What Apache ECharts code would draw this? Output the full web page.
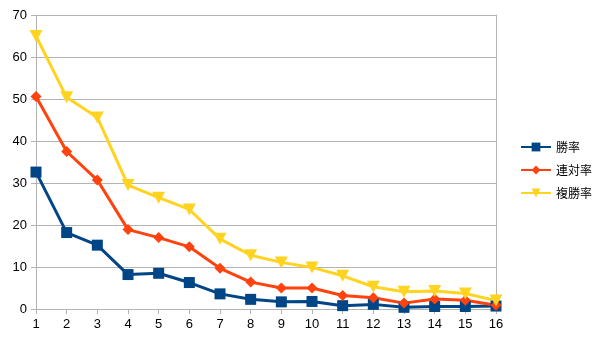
<!DOCTYPE html>
<html>
<head>
<meta charset="utf-8">
<script src="https://cdn.jsdelivr.net/npm/echarts@6/dist/echarts.min.js"></script>
<style>
  html, body { margin: 0; padding: 0; background: #fff; }
  #chart { width: 605px; height: 340px; }
</style>
</head>
<body>
<div id="chart"></div>
<script>
// Finishing position 1..16
const categories = ['1','2','3','4','5','6','7','8','9','10','11','12','13','14','15','16'];
const winRate   = [32.6, 18.2, 15.2, 8.2, 8.5, 6.3, 3.6, 2.3, 1.7, 1.8, 0.8, 1.1, 0.4, 0.6, 0.6, 0.7];
const quinella  = [50.6, 37.5, 30.7, 18.9, 17.0, 14.8, 9.7, 6.4, 5.0, 5.0, 3.2, 2.7, 1.4, 2.4, 2.1, 0.9];
const showRate  = [65.0, 50.4, 45.6, 29.5, 26.5, 23.7, 16.7, 12.8, 11.1, 9.9, 7.9, 5.3, 4.1, 4.3, 3.7, 2.0];
const seriesNames = ['勝率', '連対率', '複勝率'];

const font = 'Liberation Sans, DejaVu Sans, sans-serif';
const gray = '#b3b3b3';

const chart = echarts.init(document.getElementById('chart'));
chart.setOption({
  animation: false,
  grid: { left: 36, right: 109, top: 15, bottom: 31 },
  legend: {
    orient: 'vertical',
    left: 515,
    top: 136,
    itemGap: 11,
    itemWidth: 30,
    itemHeight: 11,
    textStyle: { fontFamily: '"Noto Sans CJK JP", sans-serif', fontSize: 12, color: '#000' },
    data: seriesNames
  },
  xAxis: {
    type: 'category',
    data: categories,
    boundaryGap: false,
    axisLine: { lineStyle: { color: gray } },
    axisTick: { show: true, alignWithLabel: true, length: 5, lineStyle: { color: gray } },
    axisLabel: { color: '#000', fontFamily: font, fontSize: 13, margin: 9 },
    splitLine: { show: false }
  },
  yAxis: [{
    type: 'value',
    min: 0, max: 70, interval: 10,
    axisLine: { show: true, lineStyle: { color: gray } },
    axisTick: { show: true, length: 5, lineStyle: { color: gray } },
    axisLabel: { color: '#000', fontFamily: font, fontSize: 13, margin: 9 },
    splitLine: { lineStyle: { color: gray } }
  }, {
    type: 'value',
    position: 'right',
    min: 0, max: 70, interval: 10,
    axisLine: { show: true, lineStyle: { color: gray } },
    axisTick: { show: false },
    axisLabel: { show: false },
    splitLine: { show: false }
  }],
  series: [
    {
      name: seriesNames[0], type: 'line', data: winRate,
      symbol: 'rect', symbolSize: 11,
      itemStyle: { color: '#004586' },
      lineStyle: { width: 3, color: '#004586' }
    },
    {
      name: seriesNames[1], type: 'line', data: quinella,
      symbol: 'diamond', symbolSize: 11,
      itemStyle: { color: '#ff420e' },
      lineStyle: { width: 3, color: '#ff420e' }
    },
    {
      name: seriesNames[2], type: 'line', data: showRate,
      symbol: 'path://M0,0 L10,0 L5,9 Z', symbolSize: [13, 12],
      itemStyle: { color: '#ffd320' },
      lineStyle: { width: 3, color: '#ffd320' }
    }
  ]
});
</script>
</body>
</html>
